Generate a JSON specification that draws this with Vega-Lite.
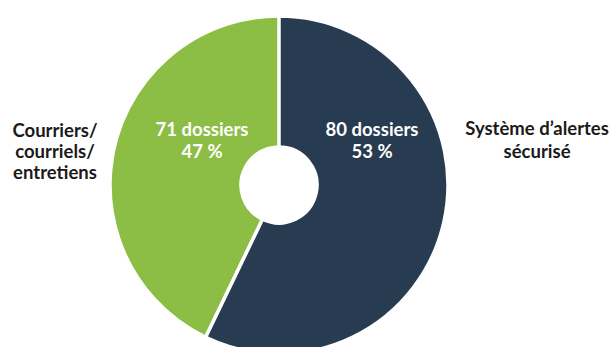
{
  "$schema": "https://vega.github.io/schema/vega-lite/v6.json",
  "width": 558,
  "height": 370,
  "autosize": "none",
  "padding": {"left": 0, "top": 0, "right": 55, "bottom": 0},
  "background": "white",
  "config": {
    "view": {"stroke": null},
    "text": {"font": "Lato", "fontWeight": "bold", "lineBreak": "\n"}
  },
  "data": {
    "values": [
      {"cat": "Courriers/ courriels/ entretiens", "n": 71, "inner": "71 dossiers\n47 %", "outer": "Courriers/\ncourriels/\nentretiens"},
      {"cat": "Système d’alertes sécurisé", "n": 80, "inner": "80 dossiers\n53 %", "outer": "Système d’alertes\nsécurisé"}
    ]
  },
  "encoding": {
    "theta": {"field": "n", "type": "quantitative", "stack": true, "scale": {"domain": [0, 140]}},
    "order": {"field": "cat", "type": "ordinal", "sort": "descending"}
  },
  "layer": [
    {
      "mark": {"type": "arc", "outerRadius": 169, "innerRadius": 38, "stroke": "white", "strokeWidth": 3.5},
      "encoding": {
        "color": {
          "field": "cat", "type": "nominal", "legend": null,
          "scale": {"domain": ["Système d’alertes sécurisé", "Courriers/ courriels/ entretiens"], "range": ["#273b51", "#8cbd44"]}
        }
      }
    },
    {
      "mark": {"type": "text", "radius": 95.4, "dy": -76, "fontSize": 18.5, "fill": "white", "lineHeight": 22},
      "encoding": {
        "detail": {"field": "cat", "type": "nominal"},
        "text": {"condition": {"test": "datum.n === 80", "field": "inner"}, "value": ""}
      }
    },
    {
      "mark": {"type": "text", "radius": 86.4, "dy": -16, "fontSize": 18.5, "fill": "white", "lineHeight": 22},
      "encoding": {
        "detail": {"field": "cat", "type": "nominal"},
        "text": {"condition": {"test": "datum.n === 71", "field": "inner"}, "value": ""}
      }
    },
    {
      "mark": {"type": "text", "radius": 264.7, "dy": -115, "fontSize": 18.5, "fill": "#1a1a1a", "lineHeight": 23},
      "encoding": {
        "detail": {"field": "cat", "type": "nominal"},
        "text": {"condition": {"test": "datum.n === 80", "field": "outer"}, "value": ""}
      }
    },
    {
      "mark": {"type": "text", "radius": 251.4, "dy": 60, "fontSize": 18.5, "fill": "#1a1a1a", "lineHeight": 21},
      "encoding": {
        "detail": {"field": "cat", "type": "nominal"},
        "text": {"condition": {"test": "datum.n === 71", "field": "outer"}, "value": ""}
      }
    }
  ]
}
